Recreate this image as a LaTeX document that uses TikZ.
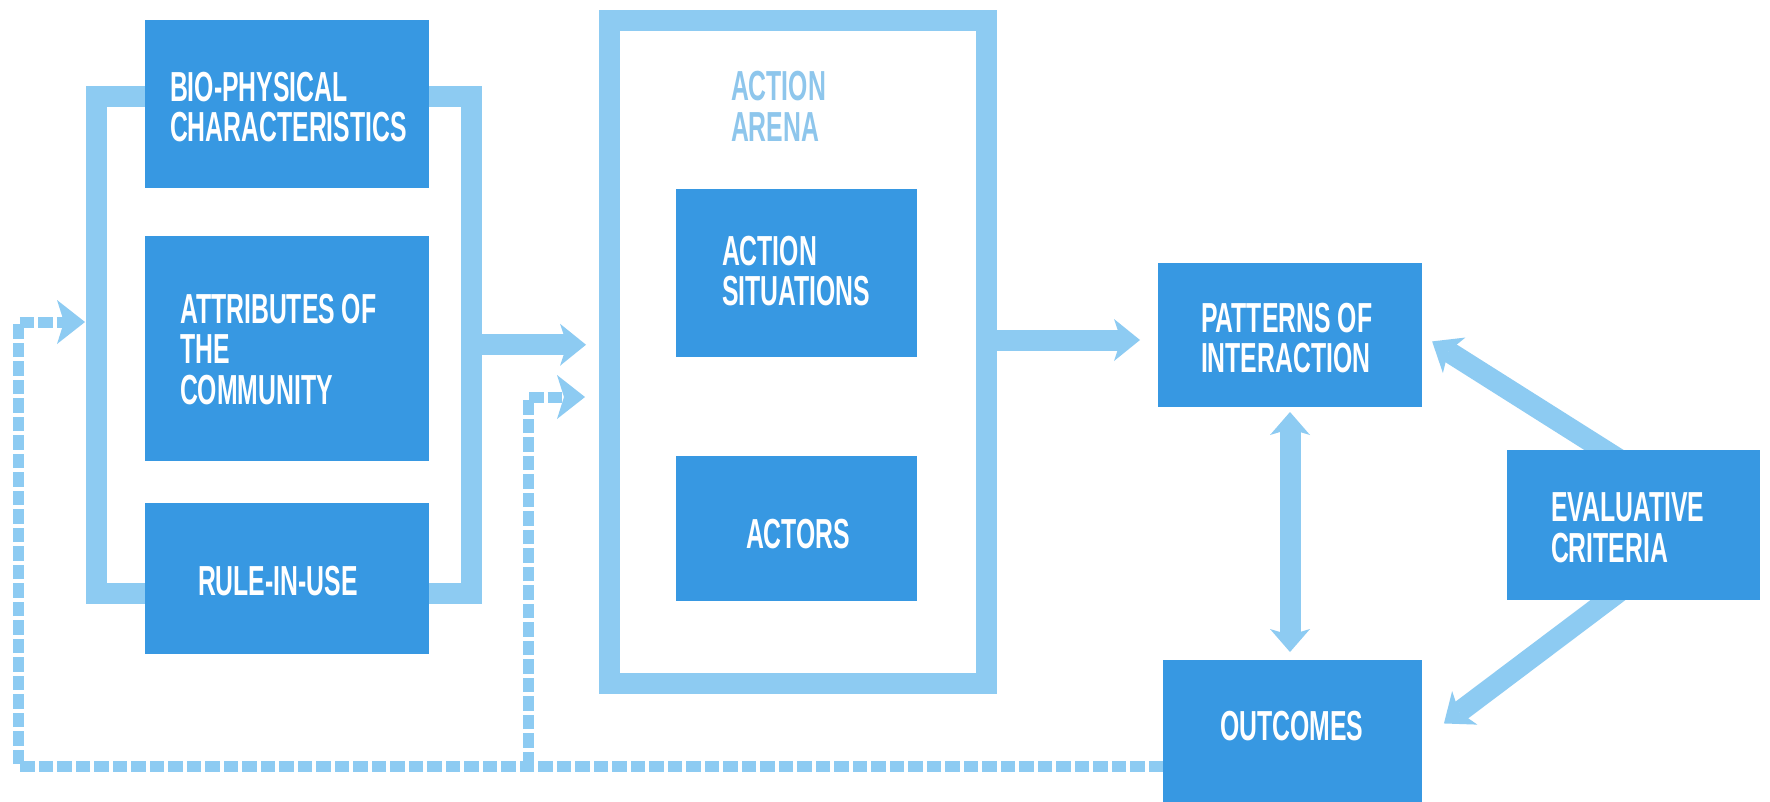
\documentclass[tikz,border=0pt]{standalone}
\usepackage{fontspec}
\setmainfont{Liberation Sans}
\usepackage{graphicx}
\usetikzlibrary{arrows.meta}
\definecolor{darkb}{RGB}{55,152,226}
\definecolor{lightb}{RGB}{141,203,242}
\definecolor{arenatxt}{RGB}{142,198,236}
\newcommand{\lbl}[1]{\scalebox{0.59}[1]{\begin{tabular}{@{}l@{}}#1\end{tabular}}}
\pgfdeclarelayer{paper}
\pgfdeclarelayer{links}
\pgfsetlayers{paper,links,main}
\begin{document}
\begin{tikzpicture}[x=1pt,y=-1pt,
  box/.style={fill=darkb, inner sep=0pt, outer sep=0pt},
  lab/.style={text=white, font=\fontsize{42}{38}\selectfont\bfseries, inner sep=0pt, outer sep=0pt, anchor=west},
  flow/.style={draw=lightb, line width=21pt, -{Stealth[length=26pt,width=42pt,inset=7pt,line width=0pt]}},
  both/.style={draw=lightb, line width=21pt, {Stealth[length=23pt,width=40pt,inset=6pt,line width=0pt]}-{Stealth[length=23pt,width=40pt,inset=6pt,line width=0pt]}},
  feedback/.style={draw=lightb, line width=11pt, dash pattern=on 14.5pt off 4pt, -{Stealth[length=28pt,width=44pt,inset=7pt,line width=0pt]}},
  frame/.style={draw=lightb, line width=21pt, inner sep=0pt, outer sep=10.5pt}
]
\path[use as bounding box, clip] (0,0) rectangle (1770,801);
\begin{pgfonlayer}{paper}
  \fill[white] (0,0) rectangle (1770,801);
\end{pgfonlayer}

% boxes
\node[box, minimum width=284pt, minimum height=168pt] (bio) at (287,104) {};
\node[box, minimum width=284pt, minimum height=225pt] (attr) at (287,348.5) {};
\node[box, minimum width=284pt, minimum height=151pt] (rule) at (287,578.5) {};
\node[frame, minimum width=377pt, minimum height=663.5pt] (arena) at (798,351.75) {};
\node[box, minimum width=241pt, minimum height=168pt] (sit) at (796.5,273) {};
\node[box, minimum width=241pt, minimum height=145pt] (act) at (796.5,528.5) {};
\node[box, minimum width=264pt, minimum height=144pt] (pat) at (1290,335) {};
\node[box, minimum width=253pt, minimum height=150pt] (eval) at (1633.5,525) {};
\node[box, minimum width=259pt, minimum height=160pt] (out) at (1292.5,740) {};

% texts
\node[lab] (biot) at (170,112.4) {\lbl{BIO-PHYSICAL\\CHARACTERISTICS}};
\node[lab] (attrt) at (180,354.9) {\lbl{ATTRIBUTES OF\\THE\\COMMUNITY}};
\node[lab] (rulet) at (198,586.9) {\lbl{RULE-IN-USE}};
\node[lab, text=arenatxt] (arenat) at (731,111.9) {\lbl{ACTION\\ARENA}};
\node[lab] (sitt) at (722,276.4) {\lbl{ACTION\\SITUATIONS}};
\node[lab] (actt) at (746,539.4) {\lbl{ACTORS}};
\node[lab] (patt) at (1201,343.4) {\lbl{PATTERNS OF\\INTERACTION}};
\node[lab] (evalt) at (1551,532.9) {\lbl{EVALUATIVE\\CRITERIA}};
\node[lab] (outt) at (1220,731.4) {\lbl{OUTCOMES}};

\begin{pgfonlayer}{links}
  % bracket around the three left boxes
  \node[frame, minimum width=374.5pt, minimum height=496.5pt] (brk) at (283.75,344.75) {};
  % solid flows
  \draw[flow, shorten >=13pt] (brk.east) -- (brk.east -| arena.west);
  \coordinate (a1) at (990,340);
  \draw[flow, shorten >=18pt] (a1) -- (a1 -| pat.west);
  \draw[both, shorten <=5pt, shorten >=8pt] (pat.south) -- (pat.south |- out.north);
  \coordinate (e1) at (1604,450);
  \draw[flow, shorten <=-30pt, shorten >=12pt] (e1) -- (pat.east);
  \coordinate (e2) at (1608,600);
  \draw[flow, shorten <=-30pt, shorten >=27.5pt] (e2) -- (out.east);
  % dashed feedback
  \coordinate (d1) at (18,766);
  \coordinate (d2) at (18,322);
  \draw[feedback, shorten >=1pt] (out.west |- d1) -- (d1) -- (d2) -- (d2 -| brk.west);
  \coordinate (d3) at (528,766);
  \coordinate (d4) at (528,397);
  \draw[feedback, shorten >=14pt] (d3) -- (d4) -- (d4 -| arena.west);
\end{pgfonlayer}
\end{tikzpicture}
\end{document}
